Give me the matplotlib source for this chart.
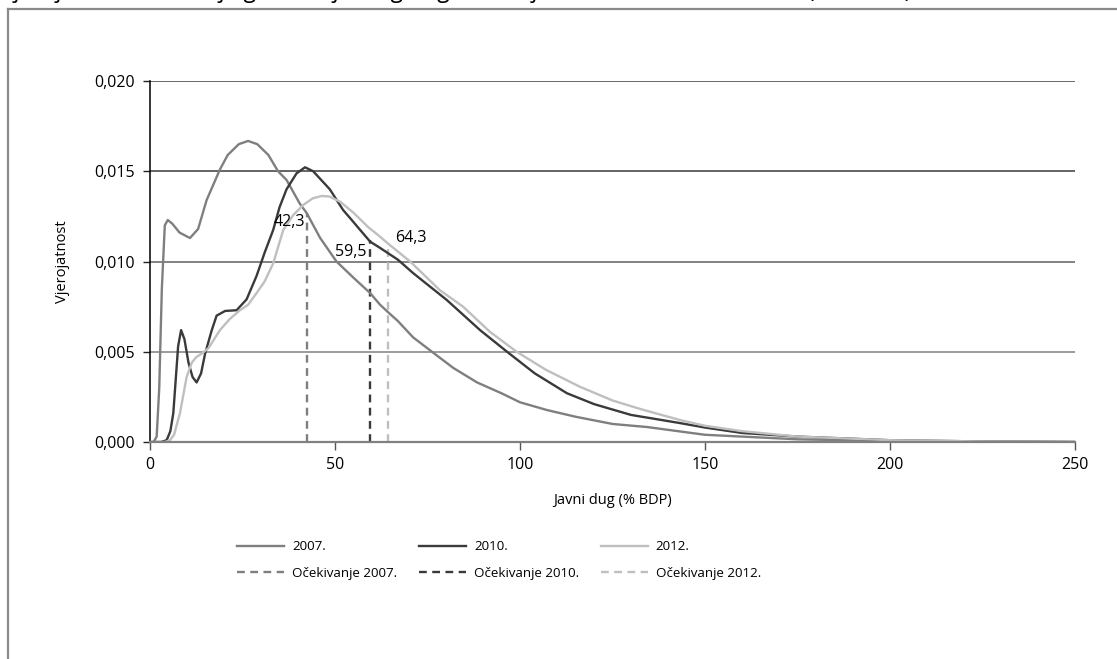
import matplotlib
matplotlib.use("Agg")
import matplotlib.pyplot as plt
import matplotlib.ticker as ticker
from matplotlib.lines import Line2D

plt.rcParams['font.family'] = ['Open Sans', 'DejaVu Sans']

# Data
x2007 = [0, 1, 1.8, 2.5, 3.2, 4.0, 4.8, 6, 8, 10.8, 13, 15.3, 18.9, 21, 24, 26.5, 29, 32,
         34.6, 36.9, 40.5, 42.3, 46, 50.4, 55, 59.5, 62.2, 64.3, 67, 71.1, 76.2, 82, 88.4,
         95, 100, 107.3, 115, 125, 134.3, 150, 175, 200, 225, 250]
y2007 = [0, 0, 0.0003, 0.003, 0.0085, 0.0120, 0.0123, 0.0121, 0.0116, 0.0113, 0.0118, 0.0134,
         0.0151, 0.0159, 0.0165, 0.01668, 0.0165, 0.0159, 0.0150, 0.01452, 0.0132, 0.0127,
         0.0113, 0.0100, 0.0091, 0.00825, 0.0076, 0.0072, 0.0067, 0.0058, 0.0050, 0.0041,
         0.0033, 0.0027, 0.0022, 0.00177, 0.0014, 0.0010, 0.00083, 0.0004, 0.00015, 0.00005,
         0.00002, 0]

x2010 = [0, 3, 4.5, 5.5, 6.3, 7.6, 8.4, 9.3, 10.4, 11.5, 12.6, 13.8, 14.9, 16.7, 18, 20.3,
         23.4, 26.1, 28.8, 31, 33.3, 35, 36.9, 39.6, 41.9, 44.1, 48.6, 52.2, 54.1, 57, 59.5,
         62.2, 67, 71.1, 80.2, 89.2, 96.5, 104, 112.7, 120, 130, 143.2, 150, 160, 175, 200,
         225, 250]
y2010 = [0, 0, 0.0001, 0.0006, 0.0016, 0.0053, 0.0062, 0.0057, 0.0044, 0.0036, 0.0033, 0.0038,
         0.0049, 0.0062, 0.0070, 0.00726, 0.0073, 0.0079, 0.0092, 0.0105, 0.01175, 0.0130,
         0.0140, 0.01488, 0.01522, 0.0150, 0.0140, 0.01285, 0.0124, 0.0117, 0.0111, 0.01075,
         0.0101, 0.00936, 0.00787, 0.0062, 0.0050, 0.0038, 0.0027, 0.0021, 0.0015, 0.00105,
         0.0008, 0.0005, 0.0003, 0.0001, 0.00003, 0]

x2012 = [0, 4, 5.4, 6.5, 8.1, 9.9, 11.3, 12.5, 14, 15.8, 18.9, 21.5, 24.3, 26.5, 28.8, 31,
         33.3, 36, 38.7, 41.4, 44, 46.4, 48.5, 51.4, 55, 59, 62.2, 64.3, 70.3, 78.4, 84.6,
         91.9, 99.1, 107, 116.2, 125, 133, 143.2, 150, 160, 175, 200, 225, 250]
y2012 = [0, 0, 0.0001, 0.0004, 0.0016, 0.0036, 0.0044, 0.0047, 0.0049, 0.0052, 0.0062, 0.0068,
         0.0073, 0.0076, 0.00825, 0.0089, 0.0099, 0.01174, 0.01257, 0.01313, 0.0135, 0.01363,
         0.0136, 0.01331, 0.0127, 0.0119, 0.01137, 0.0110, 0.0100, 0.0084, 0.0075, 0.0061,
         0.0050, 0.0040, 0.00306, 0.0023, 0.0018, 0.00122, 0.0009, 0.0006, 0.0003, 0.0001,
         0.00003, 0]

years = ['2007.', '2010.', '2012.']
expect_x = [42.3, 59.5, 64.3]
expect_top = [0.0127, 0.0112, 0.0110]
expect_labels = ['42,3', '59,5', '64,3']
colors = ['#7f7f7f', '#3a3a3a', '#bfbfbf']

y_ticks = [0.000, 0.005, 0.010, 0.015, 0.020]
grid_colors = ['#808080', '#808080', '#606060', '#3a3a3a', '#404040']
x_ticks = [0, 50, 100, 150, 200, 250]

fig = plt.figure(figsize=(11.17, 6.59), dpi=100)
ax = fig.add_axes([150 / 1117, 1 - 442 / 659, 925 / 1117, 361 / 659])

# frame around the figure (partly cropped in the source)
fig.add_artist(Line2D([8 / 1117, 8 / 1117], [0, 1 - 9 / 659], transform=fig.transFigure,
                      color='#8a8a8a', lw=1.6))
fig.add_artist(Line2D([8 / 1117, 1], [1 - 9 / 659, 1 - 9 / 659], transform=fig.transFigure,
                      color='#8a8a8a', lw=1.6))
# title is cropped off at the top of the source image, only descenders show
fig.text(0.0, 1 + 3 / 659,
         'Vjerojatnosne funkcije gustoće javnog duga zemalja EU, 2007., 2010. i 2012. (u % BDP)',
         fontsize=16.5, va='baseline', ha='left', color='black')

# horizontal gridlines
for yv, gc in zip(y_ticks[1:], grid_colors[1:]):
    ax.axhline(yv, color=gc, lw=1.1, zorder=1)

series = [(x2007, y2007), (x2010, y2010), (x2012, y2012)]
handles = []
for (xs, ys), c, yr, ex, et in zip(series, colors, years, expect_x, expect_top):
    h1, = ax.plot(xs, ys, color=c, lw=1.7, zorder=3, label=yr,
                  solid_joinstyle='round')
    h2, = ax.plot([ex, ex], [0, et], color=c, lw=1.7, ls=(0, (3.3, 2.3)), zorder=2,
                  label='Očekivanje ' + yr)
    handles += [h1, h2]

ax.text(expect_x[0] - 0.5, 0.0122, expect_labels[0], ha='right', va='center', fontsize=11.5)
ax.text(expect_x[1] - 1.0, 0.0105, expect_labels[1], ha='right', va='center', fontsize=11.5)
ax.text(expect_x[2] + 2.0, 0.0113, expect_labels[2], ha='left', va='center', fontsize=11.5)

ax.set_xlim(0, 250)
ax.set_ylim(0, 0.020)
ax.set_xticks(x_ticks)
ax.set_yticks(y_ticks)
ax.yaxis.set_major_formatter(ticker.FuncFormatter(lambda v, p: f'{v:.3f}'.replace('.', ',')))
ax.tick_params(axis='y', direction='out', length=5, width=1, color='#222222',
               labelsize=11.5, pad=6)
ax.tick_params(axis='x', direction='out', length=5.5, width=1, color='#555555',
               labelsize=11.5, pad=5)

for s in ['top', 'right']:
    ax.spines[s].set_visible(False)
ax.spines['left'].set_color('black')
ax.spines['left'].set_linewidth(1.1)
ax.spines['bottom'].set_color('#808080')
ax.spines['bottom'].set_linewidth(1.6)
ax.spines['bottom'].set_zorder(4)

ax.set_ylabel('Vjerojatnost', fontsize=10.5)
ax.yaxis.set_label_coords(-0.086, 0.5)
ax.set_xlabel('Javni dug (% BDP)', fontsize=10.5)
ax.xaxis.set_label_coords(0.5, -0.142)

fig.legend(handles=handles, ncol=3, loc='center', bbox_to_anchor=(499 / 1117, 1 - 560 / 659),
           frameon=False, fontsize=9.6, handlelength=3.55, handletextpad=0.6,
           columnspacing=1.6, labelspacing=1.0)

fig.savefig('out.png', dpi=100)
